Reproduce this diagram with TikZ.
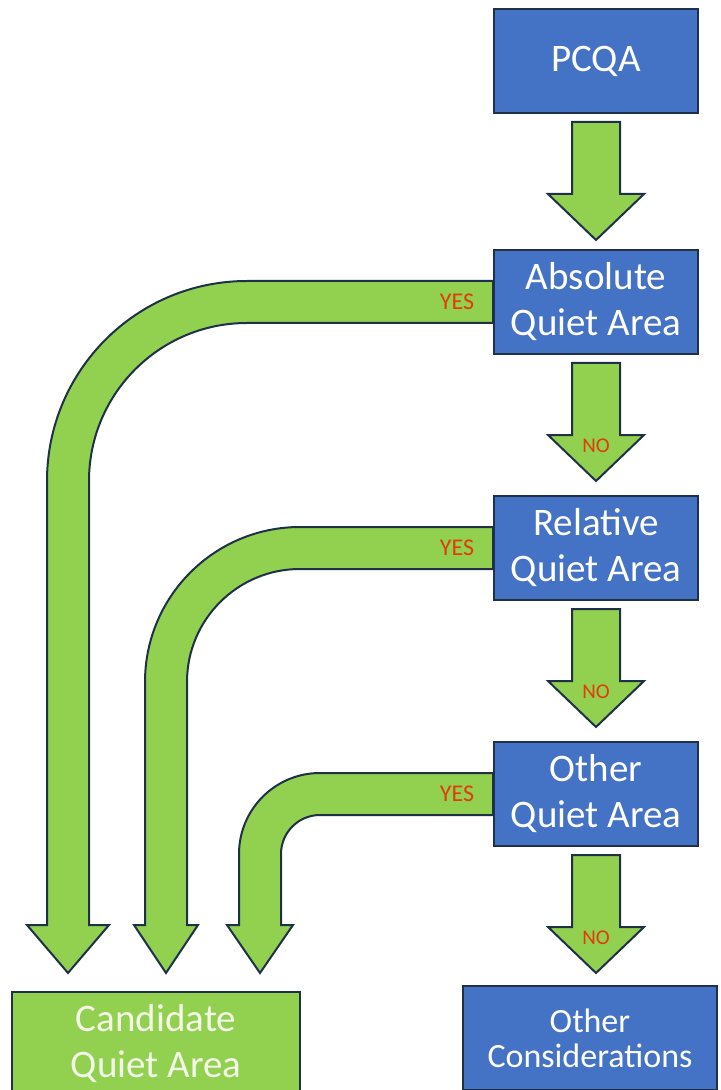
\documentclass[tikz,border=0pt]{standalone}
\usepackage{fontspec}
\setmainfont{Carlito}
\usetikzlibrary{calc}
\definecolor{boxblue}{HTML}{4472C4}
\definecolor{arrowgreen}{HTML}{92D050}
\definecolor{edgedark}{HTML}{1F3148}
\definecolor{answerred}{HTML}{E23B0C}
\definecolor{candtext}{HTML}{F4F8E8}

\begin{document}
\begin{tikzpicture}[x=0.5pt,y=-0.5pt,
  qbox/.style={draw=edgedark,line width=1pt,fill=boxblue,text=white,minimum width=102pt,minimum height=52pt,align=center,inner sep=0pt,font=\fontsize{19.5}{23}\selectfont},
  arrowbox/.style={draw=edgedark,line width=1pt,fill=arrowgreen,line join=miter},
  yeslbl/.style={text=answerred,font=\fontsize{12}{14}\selectfont},
  nolbl/.style={text=answerred,font=\fontsize{10.5}{12}\selectfont}]
\newcommand{\noarrow}[1]{\draw[arrowbox] (#1.south) ++(-24,8) -- ++(48,0) -- ++(0,72) -- ++(24,0) -- ++(-48,46) -- ++(-48,-46) -- ++(24,0) -- cycle;}
\newcommand{\yesarrow}[5]{\draw[arrowbox] ($(#1.west)+(0,-21)$) -- (#3+#4,#2-21) arc[start angle=270,end angle=180,radius=#4+21] -- (#3-21,925) -- (#3-#5,925) -- (#3,973) -- (#3+#5,925) -- (#3+21,925) -- (#3+21,#2+#4) arc[start angle=180,end angle=270,radius=#4-21] -- ($(#1.west)+(0,21)$) -- cycle;}
\useasboundingbox (0,0) rectangle (720,1090);
\clip (0,0) rectangle (720,1090);

% decision boxes
\node[qbox] (pcqa) at (596,61) {PCQA};
\node[qbox] (absqa) at (596,302) {Absolute\\Quiet Area};
\node[qbox] (relqa) at (596,548) {Relative\\Quiet Area};
\node[qbox] (othqa) at (596,794) {Other\\Quiet Area};
\node[qbox,fill=arrowgreen,text=candtext,minimum width=144pt] (cand) at (156,1044) {Candidate\\Quiet Area};
\node[qbox,minimum width=127pt,font=\fontsize{17}{17.5}\selectfont] (othcon) at (590,1038) {Other\\Considerations};

% down arrows (no)
\noarrow{pcqa}
\noarrow{absqa}
\noarrow{relqa}
\noarrow{othqa}

% bent arrows (yes)
\yesarrow{absqa}{302}{68}{179}{41}
\yesarrow{relqa}{548}{166}{134}{32}
\yesarrow{othqa}{794}{260}{60}{33}

\node[yeslbl] (yes1) at ($(absqa.west)+(-36,0)$) {YES};
\node[yeslbl] (yes2) at ($(relqa.west)+(-36,0)$) {YES};
\node[yeslbl] (yes3) at ($(othqa.west)+(-36,0)$) {YES};
\node[nolbl] (no1) at ($(absqa.south)+(0,91)$) {NO};
\node[nolbl] (no2) at ($(relqa.south)+(0,91)$) {NO};
\node[nolbl] (no3) at ($(othqa.south)+(0,91)$) {NO};
\end{tikzpicture}
\end{document}
